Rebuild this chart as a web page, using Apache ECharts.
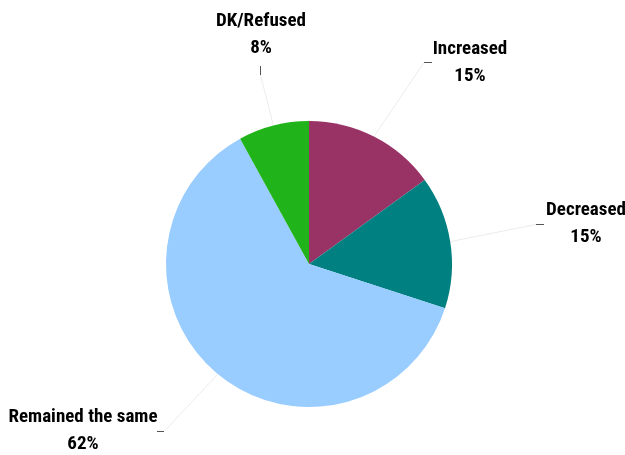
<!DOCTYPE html>
<html>
<head>
<meta charset="utf-8">
<script src="https://cdn.jsdelivr.net/npm/echarts@6/dist/echarts.min.js"></script>
<style>
  html, body { margin: 0; padding: 0; background: #fff; }
  #chart { width: 625px; height: 455px; }
</style>
</head>
<body>
<div id="chart"></div>
<script>
// Survey answers, share of respondents (%)
const categories = ['Increased', 'Decreased', 'Remained the same', 'DK/Refused'];
const shares = [15, 15, 62, 8];
const sliceColors = ['#993366', '#008080', '#99CCFF', '#21B31A'];

// Centre of each two-line label block
const labelSpots = [
  { x: 470, y: 63 },
  { x: 586, y: 224 },
  { x: 83, y: 431 },
  { x: 261, y: 35 }
];
// Short dark tick that ends each leader line, next to its label
const tickEnds = [
  [[424, 62.5], [432, 62.5]],
  [[536, 224.5], [544, 224.5]],
  [[164, 431.5], [157, 431.5]],
  [[260.5, 75], [260.5, 66]]
];

const FONT = '"Roboto Condensed", "Liberation Sans Narrow", sans-serif';
const PIE_CENTER = [309, 264];
const PIE_RADIUS = 143;

const slices = categories.map((name, i) => ({
  name: name,
  value: shares[i],
  itemStyle: { color: sliceColors[i] }
}));

const chart = echarts.init(document.getElementById('chart'));
chart.setOption({
  animation: false,
  series: [
    {
      // the pie itself, with faint leader lines running to the ticks
      type: 'pie',
      center: PIE_CENTER,
      radius: [0, PIE_RADIUS],
      startAngle: 90,
      clockwise: true,
      data: slices,
      label: {
        show: true,
        formatter: p => p.name + '\n' + p.value + '%',
        fontFamily: FONT,
        fontWeight: 'bold',
        fontSize: 19,
        lineHeight: 27,
        color: '#000',
        align: 'center',
        overflow: 'none'
      },
      labelLine: {
        show: true,
        length: 30,
        length2: 10,
        lineStyle: { color: '#ececec', width: 1 }
      },
      labelLayout: params => {
        const s = labelSpots[params.dataIndex];
        const start = params.labelLinePoints ? params.labelLinePoints[0] : null;
        const out = { x: s.x, y: s.y, align: 'center', verticalAlign: 'middle', hideOverlap: false };
        if (start) out.labelLinePoints = [start, tickEnds[params.dataIndex][0]];
        return out;
      },
      emphasis: { disabled: true }
    },
    {
      // invisible copy whose leader lines draw only the dark ticks
      type: 'pie',
      center: PIE_CENTER,
      radius: [0, PIE_RADIUS],
      startAngle: 90,
      clockwise: true,
      silent: true,
      data: categories.map((name, i) => ({ name: name, value: shares[i] })),
      itemStyle: { color: 'rgba(0,0,0,0)' },
      label: { show: true, formatter: ' ', fontSize: 1 },
      labelLine: {
        show: true,
        length: 5,
        length2: 5,
        lineStyle: { color: '#555', width: 1 }
      },
      labelLayout: params => ({
        x: tickEnds[params.dataIndex][1][0],
        y: tickEnds[params.dataIndex][1][1],
        hideOverlap: false,
        labelLinePoints: tickEnds[params.dataIndex]
      }),
      emphasis: { disabled: true }
    }
  ]
});
</script>
</body>
</html>
